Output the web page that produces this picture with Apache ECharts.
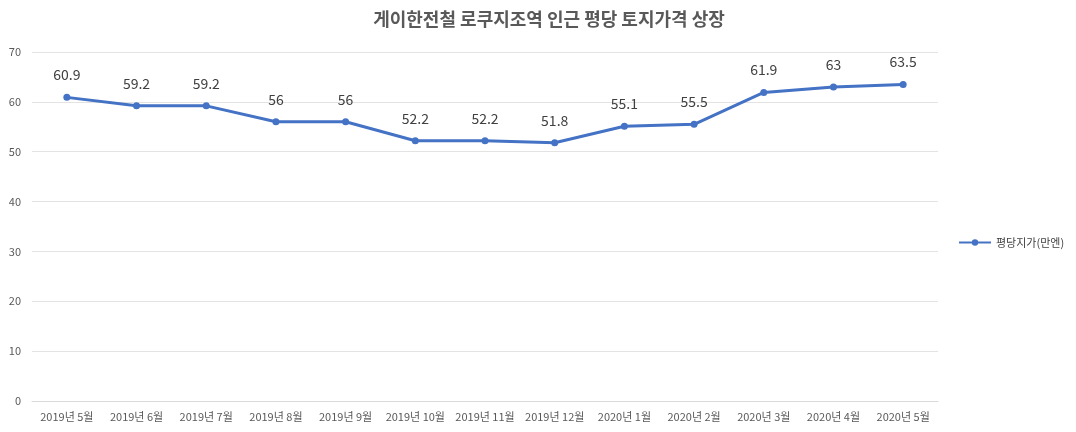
<!DOCTYPE html>
<html><head><meta charset="utf-8">
<script src="https://cdn.jsdelivr.net/npm/echarts@6/dist/echarts.min.js"></script>
<style>html,body{margin:0;padding:0;background:#fff}#c{width:1076px;height:432px}</style>
</head><body><div id="c"></div>
<script>
const categories = ['2019년 5월','2019년 6월','2019년 7월','2019년 8월','2019년 9월','2019년 10월','2019년 11월','2019년 12월','2020년 1월','2020년 2월','2020년 3월','2020년 4월','2020년 5월'];
const seriesName = '평당지가(만엔)';
const values = [60.9, 59.2, 59.2, 56, 56, 52.2, 52.2, 51.8, 55.1, 55.5, 61.9, 63, 63.5];
const titleText = '게이한전철 로쿠지조역 인근 평당 토지가격 상장';
const FONT = '"Noto Sans CJK KR","Noto Sans",sans-serif';
const chart = echarts.init(document.getElementById('c'));
chart.setOption({
  animation:false,
  textStyle:{fontFamily:FONT},
  title:{text:titleText,left:544,top:5,textAlign:'center',textStyle:{fontSize:18,fontWeight:'bold',color:'#595959',fontFamily:FONT}},
  grid:{left:32,right:138,top:52,bottom:31,containLabel:false,outerBoundsMode:'none'},
  legend:{data:[seriesName],orient:'vertical',left:953,top:232,itemWidth:32,itemHeight:8,itemGap:4,textStyle:{fontSize:11,color:'#404040'}},
  xAxis:{type:'category',data:categories,boundaryGap:true,
    axisLine:{lineStyle:{color:'#d9d9d9'}},axisTick:{show:false},
    axisLabel:{interval:0,fontSize:11,color:'#595959',margin:10}},
  yAxis:{type:'value',min:0,max:70,interval:10,
    axisLine:{show:false},axisTick:{show:false},
    splitLine:{lineStyle:{color:'#e3e3e3'}},
    axisLabel:{fontSize:11,color:'#595959',margin:11}},
  series:[{name:seriesName,type:'line',data:values,symbol:'circle',symbolSize:7,
    lineStyle:{color:'#4472C4',width:3},itemStyle:{color:'#4472C4'},
    label:{show:true,position:'top',distance:12,fontSize:14,color:'#404040'}}]
});
</script></body></html>
